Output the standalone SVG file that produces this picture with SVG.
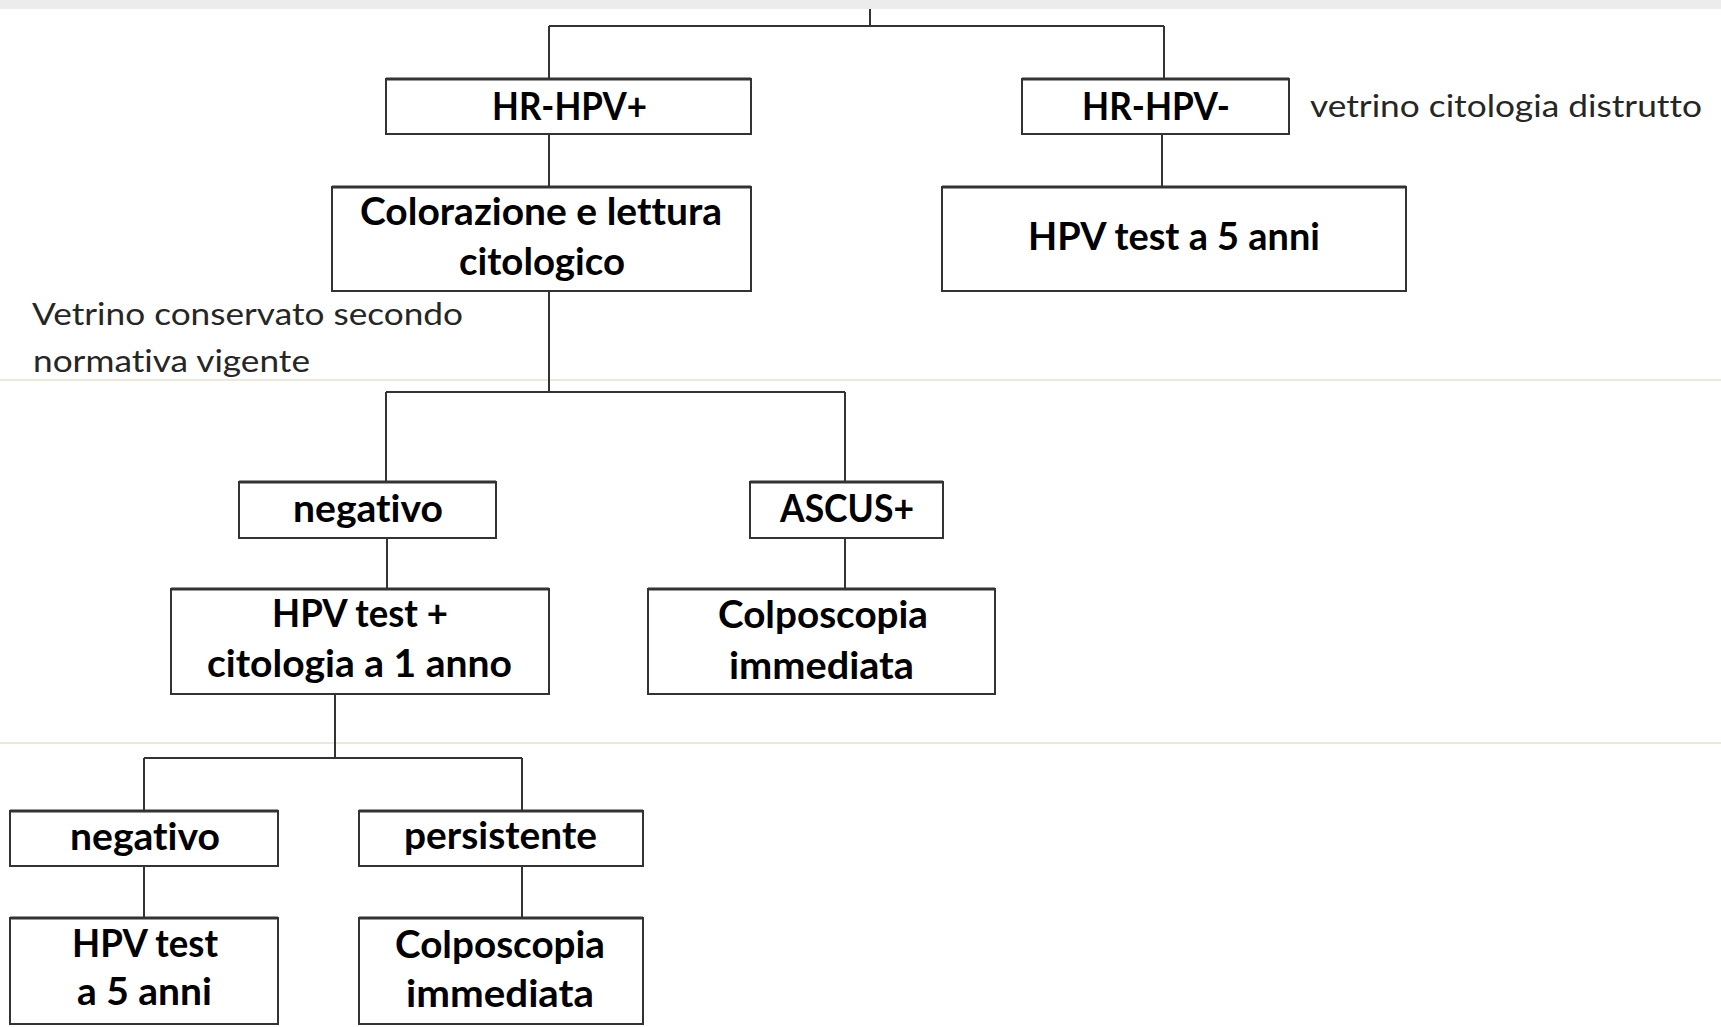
<svg xmlns="http://www.w3.org/2000/svg" width="1721" height="1027" viewBox="0 0 1721 1027">
<style>
.box{fill:#fff;stroke:#333;stroke-width:2}
.top{stroke:#333;stroke-width:3}
.lbl{font-family:Lato,"Open Sans","Liberation Sans",sans-serif;font-weight:bold;font-size:38px;fill:#000;font-variant-ligatures:none}
.note{font-family:Lato,"Open Sans","Liberation Sans",sans-serif;font-size:31px;fill:#262626;font-variant-ligatures:none}
.con{stroke:#333;stroke-width:2;fill:none}
.sep{stroke:#ebe8dc;stroke-width:2}
</style>
<rect x="0" y="0" width="1721" height="1027" fill="#fff"/>
<rect x="0" y="0" width="1721" height="9" fill="#ececec"/>
<line class="sep" x1="0" y1="380" x2="1721" y2="380"/>
<line class="sep" x1="0" y1="743" x2="1721" y2="743"/>

<g id="connectors">
<path class="con" d="M870,9V26 M549,26H1164 M549,26V79 M1164,26V79 M549,134V187 M1162,134V187 M549,291V392 M386,392H845 M386,392V482 M845,392V482 M387,538V589 M845,538V589 M335,694V758 M144,758H522 M144,758V811 M522,758V811 M144,866V918 M522,866V918"/>
</g>

<g id="hrhpv-pos">
<rect class="box" x="386" y="79" width="365" height="55"/><line class="top" x1="386" y1="79" x2="751" y2="79"/>
<text class="lbl" x="492" y="120" textLength="155" lengthAdjust="spacingAndGlyphs">HR-HPV+</text>
</g>
<g id="hrhpv-neg">
<rect class="box" x="1022" y="79" width="267" height="55"/><line class="top" x1="1022" y1="79" x2="1289" y2="79"/>
<text class="lbl" x="1082" y="120" textLength="148" lengthAdjust="spacingAndGlyphs">HR-HPV-</text>
</g>
<g id="note-distrutto">
<text class="note" x="1310" y="117" textLength="392" lengthAdjust="spacingAndGlyphs">vetrino citologia distrutto</text>
</g>
<g id="colorazione">
<rect class="box" x="332" y="187" width="419" height="104"/><line class="top" x1="332" y1="187" x2="751" y2="187"/>
<text class="lbl" x="360" y="225" textLength="362" lengthAdjust="spacingAndGlyphs">Colorazione e lettura</text>
<text class="lbl" x="459" y="275" textLength="166" lengthAdjust="spacingAndGlyphs">citologico</text>
</g>
<g id="hpv5-top">
<rect class="box" x="942" y="187" width="464" height="104"/><line class="top" x1="942" y1="187" x2="1406" y2="187"/>
<text class="lbl" x="1028" y="250" textLength="292" lengthAdjust="spacingAndGlyphs">HPV test a 5 anni</text>
</g>
<g id="note-conservato">
<text class="note" x="32" y="325" textLength="431" lengthAdjust="spacingAndGlyphs">Vetrino conservato secondo</text>
<text class="note" x="33" y="372" textLength="277" lengthAdjust="spacingAndGlyphs">normativa vigente</text>
</g>
<g id="negativo-1">
<rect class="box" x="239" y="482" width="257" height="56"/><line class="top" x1="239" y1="482" x2="496" y2="482"/>
<text class="lbl" x="293" y="522" textLength="150" lengthAdjust="spacingAndGlyphs">negativo</text>
</g>
<g id="ascus">
<rect class="box" x="750" y="482" width="193" height="56"/><line class="top" x1="750" y1="482" x2="943" y2="482"/>
<text class="lbl" x="780" y="522" textLength="134" lengthAdjust="spacingAndGlyphs">ASCUS+</text>
</g>
<g id="hpv-citologia">
<rect class="box" x="171" y="589" width="378" height="105"/><line class="top" x1="171" y1="589" x2="549" y2="589"/>
<text class="lbl" x="272" y="627" textLength="176" lengthAdjust="spacingAndGlyphs">HPV test +</text>
<text class="lbl" x="207" y="677" textLength="305" lengthAdjust="spacingAndGlyphs">citologia a 1 anno</text>
</g>
<g id="colposcopia-1">
<rect class="box" x="648" y="589" width="347" height="105"/><line class="top" x1="648" y1="589" x2="995" y2="589"/>
<text class="lbl" x="718" y="628" textLength="210" lengthAdjust="spacingAndGlyphs">Colposcopia</text>
<text class="lbl" x="729" y="679" textLength="185" lengthAdjust="spacingAndGlyphs">immediata</text>
</g>
<g id="negativo-2">
<rect class="box" x="10" y="811" width="268" height="55"/><line class="top" x1="10" y1="811" x2="278" y2="811"/>
<text class="lbl" x="70" y="850" textLength="150" lengthAdjust="spacingAndGlyphs">negativo</text>
</g>
<g id="persistente">
<rect class="box" x="359" y="811" width="284" height="55"/><line class="top" x1="359" y1="811" x2="643" y2="811"/>
<text class="lbl" x="404" y="849" textLength="193" lengthAdjust="spacingAndGlyphs">persistente</text>
</g>
<g id="hpv5-bottom">
<rect class="box" x="10" y="918" width="268" height="106"/><line class="top" x1="10" y1="918" x2="278" y2="918"/>
<text class="lbl" x="72" y="957" textLength="146" lengthAdjust="spacingAndGlyphs">HPV test</text>
<text class="lbl" x="77" y="1005" textLength="135" lengthAdjust="spacingAndGlyphs">a 5 anni</text>
</g>
<g id="colposcopia-2">
<rect class="box" x="359" y="918" width="284" height="106"/><line class="top" x1="359" y1="918" x2="643" y2="918"/>
<text class="lbl" x="395" y="958" textLength="210" lengthAdjust="spacingAndGlyphs">Colposcopia</text>
<text class="lbl" x="406" y="1007" textLength="188" lengthAdjust="spacingAndGlyphs">immediata</text>
</g>
</svg>
